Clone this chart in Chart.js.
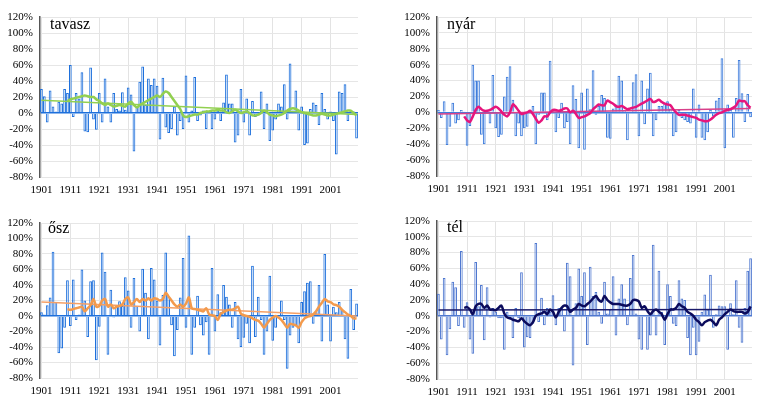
<!DOCTYPE html>
<html>
<head>
<meta charset="utf-8">
<script src="https://cdn.jsdelivr.net/npm/chart.js@4.4.1/dist/chart.umd.min.js"></script>
<style>
  body { margin:0; background:#fff; }
  #wrap { position:relative; width:770px; height:410px; }
  .panel { position:absolute; }
</style>
</head>
<body>
<div id="wrap">
  <canvas class="panel" id="c1" width="385" height="205" style="left:0;top:0"></canvas>
  <canvas class="panel" id="c2" width="375" height="205" style="left:395px;top:0"></canvas>
  <canvas class="panel" id="c3" width="385" height="205" style="left:0;top:205px"></canvas>
  <canvas class="panel" id="c4" width="375" height="205" style="left:395px;top:205px"></canvas>
</div>
<script>
// years 1901..2010, a label on every 10th
const years = [];
for (let y = 1901; y <= 2010; y++) years.push(String(y));
const yTicks = [-80, -60, -40, -20, 0, 20, 40, 60, 80, 100, 120];

// yearly anomalies (%)
const tavasz = [
  30, 21, -12, 28, 8, 2, 14, 12, 30, 25,
  60, -5, 25, 18, 51, -23, -24, 57, -8, -21,
  25, -12, 43, 8, -12, 25, 5, 3, 26, 4,
  32, 23, -48, 8, 39, 58, 10, 43, 35, 43,
  34, -33, 44, -18, -25, -20, 8, -28, -10, -20,
  47, -12, 3, 45, -10, -3, 3, -20, 2, -20,
  -8, 3, -10, 13, 48, 12, 12, -37, -28, 30,
  -12, 18, -28, 15, -5, -3, 27, -20, 12, -35,
  -22, -8, 12, 8, 36, -8, 62, 3, 28, -22,
  8, -40, -38, 5, 13, 10, -15, 25, 5, -8,
  2, -10, -52, 27, 25, 36, -10, 3, 2, -32
];
const nyar = [
  3, -7, 14, -41, -18, 12, -14, -10, 3, 1,
  -42, -17, 60, 40, 40, -28, -40, 3, -14, 47,
  -20, -31, -28, 20, 45, 58, 16, -30, -14, -30,
  -20, -18, 2, 8, -40, -3, 25, 25, -10, 65,
  3, -25, -7, 12, -20, -12, -40, 34, 17, -45,
  25, -47, 30, 4, 53, -3, 8, 22, 18, -32,
  -33, 5, 10, 46, 40, 3, -35, 1, 38, 48,
  -30, 40, -15, 30, 50, -30, -10, 8, 8, 12,
  14, 5, -30, -25, 3, -7, -10, -12, -14, 30,
  -32, 10, -32, -35, -25, 3, -5, 15, 18, 68,
  -45, 10, 3, -32, 18, 66, 24, -12, 23, -6
];
const osz = [
  5, 2, 14, 24, 83, 18, -48, -42, -15, 46,
  -13, 47, -5, 2, 60, 20, -27, 45, 46, -57,
  -14, 82, 57, -50, 34, -2, 14, 19, 13, 50,
  33, -15, 49, 13, -20, 61, 30, -30, 62, 47,
  20, -38, 27, 82, 25, -12, -52, -18, 24, 75,
  -15, 104, -50, -15, 26, -12, -25, -8, -50, 62,
  -20, 28, 5, 40, 25, 15, -15, 18, -30, -40,
  -28, -10, -35, 65, -27, 25, -5, -50, -20, 52,
  -32, -15, -2, 20, -5, -68, -25, -15, -12, -35,
  18, 32, 43, 45, -10, 5, 40, -33, 80, 15,
  -33, 12, 5, 18, 8, -30, -55, 35, -18, 16
];
const tel = [
  28, -30, 48, -50, -17, 43, 36, -13, 82, -15,
  17, -30, -48, 68, 12, 39, -31, 36, -2, 10,
  5, -3, -3, -43, 5, -5, -28, 10, -3, 55,
  -40, -27, -28, -10, 92, -8, 23, -12, 10, 5,
  26, -12, 10, 10, -20, 67, 50, -63, 16, 60,
  25, 55, -37, 62, 25, 30, 5, -10, 43, 3,
  8, 50, -25, 22, 40, 22, -12, 48, 77, 3,
  -30, -43, 0, -43, -25, 90, -25, 57, 5, -37,
  40, 25, -10, -13, 45, 22, 20, -28, -50, -15,
  -50, -33, 5, 27, 8, 52, -15, 2, 13, 12,
  12, -43, 16, 2, 45, -15, -34, 10, 57, 73
];

// smoothed curves, 1910..2010
const tavaszMA = [
  15, 17, 18, 19, 20, 21, 22, 21, 20, 20, 17,
  15, 12, 10, 12, 10, 8, 9, 10, 9, 8,
  12, 14, 10, 7, 10, 12, 14, 16, 18, 20,
  22, 20, 24, 27, 25, 20, 15, 10, 5, -3,
  -5, -4, -3, -2, -2, 0, 1, 2, 2, 3,
  3, 4, 3, 3, 1, 0, 2, 4, 2, 0,
  1, 2, 0, -3, -3, -2, 0, 3, 1, -2,
  -3, -4, -3, -2, 0, 3, 5, 6, 5, 3,
  1, 0, -1, -2, -3, -3, -2, -1, -2, -3,
  -3, -2, -1, 0, 1, 2, 3, 3, 0, -3
];
const nyarMA = [
  -5, -10, -12, -5, 3, 7, 4, 2, 2, 3, 5,
  7, 5, 1, -3, -5, 0, 10, 7, 2, -2,
  -1, 0, 2, -2, -8, -13, -10, -5, -5, 0,
  3, 3, 2, 3, 5, 5, 0, 2, -2, -7,
  -6, -5, -3, -1, 4, 7, 10, 9, 9, 15,
  13, 11, 8, 7, 8, 6, 4, 5, 6, 7,
  9, 11, 13, 15, 17, 13, 14, 16, 13, 11,
  10, 9, 4, 0, -3, -3, -3, -4, -5, -6,
  -7, -9, -10, -11, -11, -9, -6, -3, -1, 0,
  2, 3, 4, 6, 9, 15, 14, 14, 9, 6
];
const oszMA = [
  9, 8, 9, 10, 11, 12, 6, 10, 14, 22, 12,
  13, 20, 22, 12, 15, 10, 12, 13, 15, 22,
  24, 15, 18, 22, 18, 22, 20, 23, 20, 23,
  22, 20, 22, 30, 25, 20, 15, 12, 15, 12,
  16, 24, 10, 9, 8, 7, 6, 10, 2, 1,
  0, -5, 3, 5, 7, 8, 8, 10, 12, 3,
  1, 0, -1, -3, -5, -6, -10, -15, -10, -5,
  -2, 0, -2, -5, -10, -15, -10, -11, -12, -15,
  -8, -3, -1, 0, 2, 6, 12, 17, 22, 19,
  18, 15, 14, 12, 8, 5, 2, 0, -3, -3
];
const telMA = [
  10, 11, 8, 2, 12, 15, 15, 10, 13, 8, 8,
  7, 10, 13, 3, -2, -3, -5, -6, -7, -3,
  -7, -10, -12, -8, 0, 2, 3, 5, 2, 8,
  5, -2, 5, 10, 13, 12, 5, 8, 10, 15,
  13, 12, 15, 18, 22, 25, 20, 18, 25, 20,
  17, 15, 15, 15, 14, 13, 13, 15, 20, 20,
  18, 10, 12, 6, 2, 6, 8, 5, 2, -5,
  2, 8, 8, 10, 15, 12, 10, 5, 3, 0,
  -5, -8, -12, -8, -6, -5, -8, -12, -5, -2,
  2, 5, 8, 6, 5, 5, 5, 3, 5, 12
];

// linear trends: value in 1901 and in 2010
const tavaszTrend = [16, -2];
const nyarTrend = [-2, 5];
const oszTrend = [18, 0];
const telTrend = [7.5, 8];

const FONT = 'Liberation Serif';

const panelLabel = {
    id: 'panelLabel',
    afterDraw(chart, args, o) {
        const ctx = chart.ctx;
        ctx.save();
        ctx.font = '16px "' + FONT + '"';
        ctx.fillStyle = '#000';
        ctx.textBaseline = 'middle';
        ctx.fillText(o.text, chart.chartArea.left + o.dx, chart.chartArea.top + o.dy);
        ctx.restore();
    }
};

function trendData(t) {
    const d = years.map(() => null);
    d[0] = t[0];
    d[d.length - 1] = t[1];
    return d;
}

function makePanel(id, p) {
    const ma = Array(9).fill(null).concat(p.ma);
    new Chart(document.getElementById(id), {
        type: 'bar',
        data: {
            labels: years,
            datasets: [
                {
                    type: 'line', data: ma, borderColor: p.lineColor, borderWidth: 2.5,
                    pointRadius: 0, tension: 0.3, order: 1
                },
                {
                    type: 'line', data: trendData(p.trend), borderColor: p.trendColor, borderWidth: 1.5,
                    pointRadius: 0, spanGaps: true, order: 2
                },
                {
                    data: p.values, backgroundColor: 'rgba(0,0,0,0)', borderColor: p.barColor,
                    borderWidth: 1, barPercentage: 0.95, categoryPercentage: 1, order: 3
                }
            ]
        },
        options: {
            responsive: false,
            animation: false,
            layout: { padding: { top: p.top, right: p.right, left: 0, bottom: 0 } },
            plugins: {
                legend: { display: false },
                tooltip: { enabled: false },
                panelLabel: { text: p.label, dx: p.dx, dy: p.dy }
            },
            scales: {
                x: {
                    afterFit: s => { s.height = p.xh; },
                    border: { display: false },
                    grid: {
                        offset: false, drawTicks: false,
                        color: c => (c.index % 10 === 0 ? '#e3e3e3' : 'rgba(0,0,0,0)')
                    },
                    ticks: {
                        autoSkip: false, maxRotation: 0, padding: 7, color: '#000',
                        font: { family: FONT, size: 11 },
                        callback: (v, i) => (i % 10 === 0 ? years[i] : '')
                    }
                },
                y: {
                    min: -80, max: 120,
                    afterFit: s => { s.width = p.yw; },
                    afterBuildTicks: s => { s.ticks = yTicks.map(v => ({ value: v })); },
                    border: { display: true, color: '#555', width: 1.5 },
                    grid: {
                        drawTicks: false,
                        color: c => (c.tick && c.tick.value === 0 ? p.barColor : '#e6e6e6'),
                        lineWidth: c => (c.tick && c.tick.value === 0 ? 1.5 : 1)
                    },
                    ticks: {
                        autoSkip: false, padding: 7, color: '#000',
                        font: { family: FONT, size: 11 },
                        callback: v => v + '%'
                    }
                }
            }
        },
        plugins: [panelLabel]
    });
}

makePanel('c1', {
    values: tavasz, ma: tavaszMA, trend: tavaszTrend, label: 'tavasz',
    barColor: '#1e70dc', lineColor: '#92d050', trendColor: '#92d050',
    top: 17, right: 27, xh: 28, yw: 40, dx: 10, dy: 8
});
makePanel('c2', {
    values: nyar, ma: nyarMA, trend: nyarTrend, label: 'nyár',
    barColor: '#3f7ddc', lineColor: '#e6157c', trendColor: '#d8408a',
    top: 17, right: 18, xh: 29, yw: 42, dx: 10, dy: 8
});
makePanel('c3', {
    values: osz, ma: oszMA, trend: oszTrend, label: 'ősz',
    barColor: '#1e70dc', lineColor: '#f39a4c', trendColor: '#f5a066',
    top: 18, right: 27, xh: 32, yw: 40, dx: 8, dy: 6
});
makePanel('c4', {
    values: tel, ma: telMA, trend: telTrend, label: 'tél',
    barColor: '#4f78d0', lineColor: '#0b0b5c', trendColor: '#1a1a6a',
    top: 16, right: 18, xh: 31, yw: 42, dx: 10, dy: 7
});
</script>
</body>
</html>
